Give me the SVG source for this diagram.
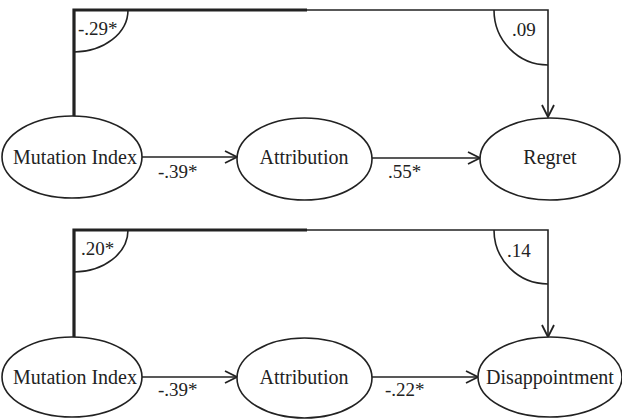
<svg xmlns="http://www.w3.org/2000/svg" width="622" height="419" viewBox="0 0 622 419">
<style>
.node{fill:#fff;stroke:#222;stroke-width:1.6}
.lbl{font-family:'Liberation Serif','Times New Roman',Times,'DejaVu Serif',serif;font-size:20px;fill:#222;text-anchor:middle}
.coef{font-family:'Liberation Serif','Times New Roman',Times,'DejaVu Serif',serif;font-size:19px;fill:#222}
.thin{fill:none;stroke:#222;stroke-width:1.6}
.thick{fill:none;stroke:#222;stroke-width:3.2}
</style>
<defs>
<marker id="ah" markerWidth="14" markerHeight="14" refX="13" refY="7" orient="auto" markerUnits="userSpaceOnUse">
<path d="M1,1 L13,7 L1,13" fill="none" stroke="#222" stroke-width="1.8"/>
</marker>
</defs>
<rect width="622" height="419" fill="#fff"/>
<g id="connectors">
<path class="thick" d="M74,117 L74,10 L307,10"/>
<path class="thin" d="M307,10 L548,10 L548,117" marker-end="url(#ah)"/>
<path class="thin" d="M128,10 A54,42 0 0 1 74,52"/>
<path class="thin" d="M494,10 A54,55 0 0 0 548,65"/>
<line class="thin" x1="142" y1="157" x2="237" y2="157" marker-end="url(#ah)"/>
<line class="thin" x1="372" y1="158" x2="480" y2="158" marker-end="url(#ah)"/>
<path class="thick" d="M74,337 L74,230 L307,230"/>
<path class="thin" d="M307,230 L548,230 L548,337" marker-end="url(#ah)"/>
<path class="thin" d="M128,230 A54,42 0 0 1 74,272"/>
<path class="thin" d="M494,230 A54,54 0 0 0 548,284"/>
<line class="thin" x1="142" y1="377" x2="237" y2="377" marker-end="url(#ah)"/>
<line class="thin" x1="372" y1="377" x2="478" y2="377" marker-end="url(#ah)"/>
</g>
<g id="coefficients">
<text class="coef" x="78" y="35" font-family="Liberation Serif, serif">-.29*</text>
<text class="coef" x="512" y="36">.09</text>
<text class="coef" x="158" y="178">-.39*</text>
<text class="coef" x="388" y="178">.55*</text>
<text class="coef" x="81" y="255">.20*</text>
<text class="coef" x="507" y="257">.14</text>
<text class="coef" x="158" y="396">-.39*</text>
<text class="coef" x="385" y="396">-.22*</text>
</g>
<g id="mutation1"><ellipse class="node" cx="72" cy="157" rx="70" ry="41"/><text class="lbl" x="75" y="164">Mutation Index</text></g>
<g id="attribution1"><ellipse class="node" cx="304.5" cy="159" rx="67.5" ry="41"/><text class="lbl" x="304" y="164">Attribution</text></g>
<g id="regret"><ellipse class="node" cx="550" cy="159" rx="70" ry="41"/><text class="lbl" x="550" y="164">Regret</text></g>
<g id="mutation2"><ellipse class="node" cx="72" cy="377" rx="70" ry="40"/><text class="lbl" x="75" y="384">Mutation Index</text></g>
<g id="attribution2"><ellipse class="node" cx="304.5" cy="378" rx="67.5" ry="40"/><text class="lbl" x="304" y="384">Attribution</text></g>
<g id="disappointment"><ellipse class="node" cx="550" cy="377" rx="72" ry="40"/><text class="lbl" x="550" y="384">Disappointment</text></g>
</svg>
